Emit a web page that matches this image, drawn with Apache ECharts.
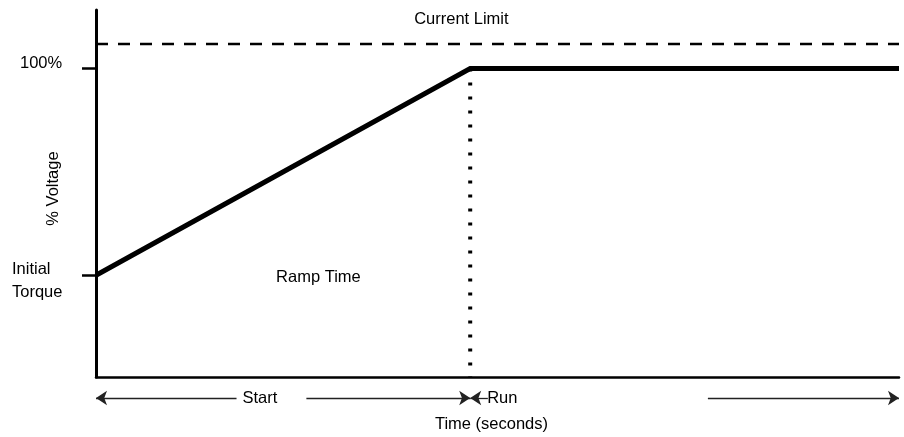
<!DOCTYPE html>
<html>
<head>
<meta charset="utf-8">
<script src="https://cdn.jsdelivr.net/npm/echarts@6/dist/echarts.min.js"></script>
<style>
html,body{margin:0;padding:0;background:#fff;}
#chart{width:904px;height:437px;}
</style>
</head>
<body>
<div id="chart"></div>
<script>
// ---- data ----
const timePoints = [0, 46.6, 100];          // start, end of ramp, end of run (time axis units)
const voltagePoints = [33, 100, 100];       // % voltage at those times (33 = initial torque)
const currentLimit = 108;                   // dashed current limit level
const yTickValues = [33, 100];
const yTickLabels = ['Initial\nTorque', '100%'];
const currentLimitLabelTime = 45.5;
const rampLabel = ['Ramp Time', 27.7, 32.4];
const phaseNames = ['Start', 'Run'];
const phaseLabelTimes = [20.4, 50.6];
const startSegments = [[0, 17.5], [26.2, 46.6]];
const runSegments = [[46.6, 48.8], [76.2, 100]];

const FONT = "'Liberation Sans', Arial, sans-serif";
const FW = 'normal';
const FS = 16.5;
const INK = '#000';

const chart = echarts.init(document.getElementById('chart'), null, {renderer: 'canvas'});

function txt(extra) {
  return Object.assign({fontFamily: FONT, fontWeight: FW, fontSize: FS, color: INK}, extra || {});
}

function seg(a, b, fromArrow, toArrow) {
  return [
    {coord: [a, 0], symbol: fromArrow ? 'arrow' : 'none'},
    {coord: [b, 0], symbol: toArrow ? 'arrow' : 'none'}
  ];
}

const arrowLines = [
  seg(startSegments[0][0], startSegments[0][1], true, false),
  seg(startSegments[1][0], startSegments[1][1], false, true),
  seg(runSegments[0][0], runSegments[0][1], true, false),
  seg(runSegments[1][0], runSegments[1][1], false, true)
];

const option = {
  animation: false,
  backgroundColor: '#fff',
  textStyle: {fontFamily: FONT, color: INK},
  grid: [
    {left: 96, right: 5, top: 10, bottom: 60, containLabel: false, outerBoundsMode: 'none'},
    {left: 96, right: 5, top: 388, height: 20, containLabel: false, outerBoundsMode: 'none'}
  ],
  xAxis: [
    {
      type: 'value', gridIndex: 0, min: 0, max: 100,
      name: 'Time (seconds)', nameLocation: 'middle', nameGap: 39, nameMoveOverlap: false,
      nameTextStyle: txt({padding: [0, 12, 0, 0]}),
      axisLine: {show: true, lineStyle: {color: '#000', width: 2.5}},
      axisTick: {show: false}, axisLabel: {show: false}, splitLine: {show: false}
    },
    {
      type: 'value', gridIndex: 1, min: 0, max: 100, show: false
    }
  ],
  yAxis: [
    {
      type: 'value', gridIndex: 0, min: 0, max: 119,
      name: '% Voltage', nameLocation: 'middle', nameGap: 34, nameRotate: 90, nameMoveOverlap: false,
      nameTextStyle: txt({padding: [0, 0, 0, 10]}),
      axisLine: {show: true, lineStyle: {color: '#000', width: 3}},
      axisTick: {show: true, customValues: yTickValues, length: 14, inside: false,
                 lineStyle: {color: '#000', width: 2.5}},
      axisLabel: {
        show: true, customValues: yTickValues, align: 'left', margin: 84,
        fontFamily: FONT, fontWeight: FW, fontSize: FS, color: INK,
        formatter: function (v) {
          const i = yTickValues.indexOf(v);
          const t = i >= 0 ? yTickLabels[i] : '';
          if (t.indexOf('\n') >= 0) {
            return '{s| }\n' + t.split('\n').map(x => '{b|' + x + '}').join('\n');
          }
          return '{a|' + t + '}\n{s| }';
        },
        rich: {
          a: txt({padding: [0, 0, 0, 8], lineHeight: 20}),
          b: txt({lineHeight: 23}),
          s: {fontSize: 6, lineHeight: 11}
        }
      },
      splitLine: {show: false}
    },
    {
      type: 'value', gridIndex: 1, min: -1, max: 1, show: false
    }
  ],
  series: [
    {
      name: 'Current Limit', type: 'line', xAxisIndex: 0, yAxisIndex: 0,
      data: [[timePoints[0], currentLimit],
             {value: [currentLimitLabelTime, currentLimit],
              label: txt({show: true, position: 'top', distance: 16, formatter: 'Current Limit'})},
             [timePoints[2], currentLimit]],
      symbol: 'circle', symbolSize: 0, showSymbol: true, silent: true,
      itemStyle: {opacity: 1, color: '#000'},
      lineStyle: {color: '#000', width: 2.5, type: [12, 10]}
    },
    {
      name: 'Ramp End', type: 'line', xAxisIndex: 0, yAxisIndex: 0,
      data: [[timePoints[1], voltagePoints[1]], [timePoints[1], 0]],
      symbol: 'none', silent: true,
      lineStyle: {color: '#000', width: 4, type: [3, 11], cap: 'butt'}
    },
    {
      name: 'Voltage', type: 'line', xAxisIndex: 0, yAxisIndex: 0,
      data: timePoints.map((t, i) => [t, voltagePoints[i]]),
      symbol: 'none', silent: true, z: 5,
      lineStyle: {color: '#000', width: 5, cap: 'butt', join: 'miter'}
    },
    {
      name: 'Ramp Label', type: 'scatter', xAxisIndex: 0, yAxisIndex: 0,
      data: [[rampLabel[1], rampLabel[2]]],
      symbolSize: 0, silent: true,
      itemStyle: {opacity: 1, color: '#000'},
      label: txt({show: true, position: 'inside', formatter: rampLabel[0], opacity: 1})
    },
    {
      name: 'Phases', type: 'scatter', xAxisIndex: 1, yAxisIndex: 1,
      data: phaseLabelTimes.map(t => [t, 0]),
      symbolSize: 0, silent: true,
      itemStyle: {opacity: 1, color: '#000'},
      label: txt({show: true, position: 'inside', opacity: 1,
              formatter: p => phaseNames[p.dataIndex]}),
      markLine: {
        silent: true, animation: false,
        symbolSize: [11, 11],
        label: {show: false},
        lineStyle: {color: '#222', width: 1.3, type: 'solid'},
        emphasis: {disabled: true},
        data: arrowLines
      }
    }
  ]
};
chart.setOption(option);
</script>
</body>
</html>
